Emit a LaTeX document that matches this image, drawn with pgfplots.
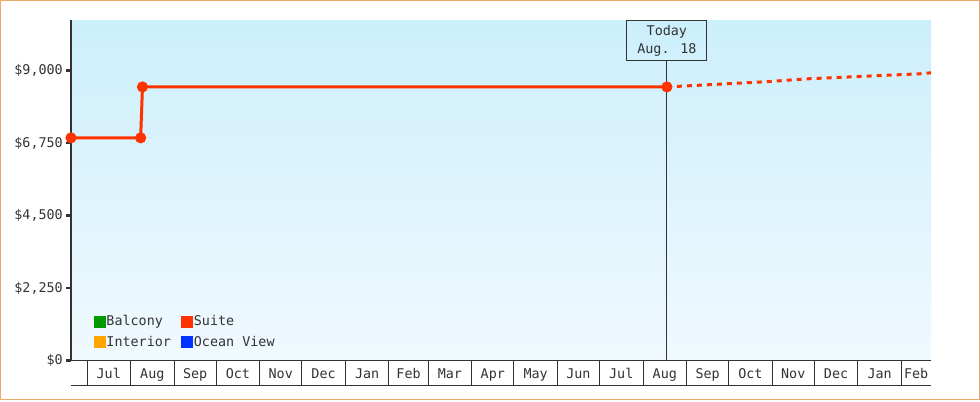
\documentclass[border=0pt]{standalone}
\usepackage{fontspec}
\setmainfont{DejaVu Sans Mono}
\usepackage{pgfplots}
\pgfplotsset{compat=1.18}

\definecolor{suite}{HTML}{FF3300}
\definecolor{balcony}{HTML}{009900}
\definecolor{interior}{HTML}{FFA500}
\definecolor{ocean}{HTML}{0033FF}
\definecolor{framecol}{HTML}{EBA868}
\definecolor{axisdark}{HTML}{333333}
\definecolor{bgtop}{HTML}{CCEFFC}
\definecolor{bgbot}{HTML}{F0F9FE}

\pgfplotsset{
  sqlegend/.style={legend image code/.code={\fill[##1] (0pt,-5.5pt) rectangle (11pt,5.5pt);}},
}

\begin{document}
\begin{tikzpicture}[x=1pt,y=1pt]
\fill[white] (0,0) rectangle (980,400);
\draw[framecol, line width=1pt] (0.5,0.5) rectangle (979.5,399.5);
\begin{axis}[
  at={(71pt,39.5pt)}, anchor=south west,
  scale only axis, width=860pt, height=340pt,
  xmin=-11.4, xmax=601.1, ymin=0, ymax=10552,
  clip=false,
  axis lines*=left,
  axis line style={axisdark},
  y axis line style={line width=2pt},
  x axis line style={line width=1pt},
  axis background/.style={shade, top color=bgtop, bottom color=bgbot},
  /pgf/number format/assume math mode=true,
  scaled y ticks=false,
  every tick label/.append style={font=\fontsize{13.4}{16}\selectfont, text=axisdark},
  ytick={0,2250,4500,6750,9000},
  yticklabels={\$0,{\$2,250},{\$4,500},{\$6,750},{\$9,000}},
  yticklabel style={inner sep=3pt},
  major tick length=5pt, tick align=outside,
  ytick style={line width=2.5pt, axisdark},
  xtick={15.5,46.5,77,107.5,138,168.5,199.5,229,258.5,289,319.5,350,380.5,411.5,442,472.5,503,533.5,564.5,590.5},
  xticklabels={Jul,Aug,Sep,Oct,Nov,Dec,Jan,Feb,Mar,Apr,May,Jun,Jul,Aug,Sep,Oct,Nov,Dec,Jan,Feb},
  xtick style={draw=none},
  xticklabel style={anchor=base, yshift=-13pt},
  extra x ticks={0,31,62,92,123,153,184,215,243,274,304,335,365,396,427,457,488,518,549,580},
  extra x tick style={major tick length=25pt, xticklabel={},
    xtick style={draw=axisdark, line width=1pt}},
  legend style={draw=none, fill=none, at={(0.026,0.032)}, anchor=south west,
    inner sep=0pt, font=\fontsize{13.4}{16}\selectfont, text=axisdark,
    nodes={inner sep=1.5pt}, row sep=6pt,
    /tikz/every even column/.append style={column sep=8.5pt}},
  legend columns=2,
  legend cell align=left,
]
\addlegendimage{balcony, sqlegend}
\addlegendentry{Balcony}
\addlegendimage{suite, sqlegend}
\addlegendentry{Suite}
\addlegendimage{interior, sqlegend}
\addlegendentry{Interior}
\addlegendimage{ocean, sqlegend}
\addlegendentry{Ocean View}

% projected prices
\addplot[forget plot, suite, line width=3pt, dash pattern=on 5pt off 5pt, no marks] coordinates {
  (413,8490) (486.5,8659) (500.7,8705) (513.5,8743) (593.3,8898) (601.1,8929)
};
% past prices
\addplot[forget plot, suite, line width=3pt, mark=*, mark size=4pt, mark options={solid}] coordinates {
  (-11.4,6910) (38.2,6910) (39.5,8490) (413,8490)
};

\draw[axisdark, line width=1pt] (rel axis cs:0,0) ++(0pt,-25pt) -- ([yshift=-25pt]rel axis cs:1,0);
\node[draw=axisdark, line width=1pt, anchor=north, minimum width=80pt, minimum height=40pt,
  align=center, text=axisdark, font=\fontsize{13.4}{18}\selectfont, inner sep=2pt] (today)
  at (axis cs:413,10552) {Today\\Aug. 18};
\draw[axisdark, line width=1pt] (axis cs:413,0) -- (today.south);
\end{axis}
\end{tikzpicture}
\end{document}
